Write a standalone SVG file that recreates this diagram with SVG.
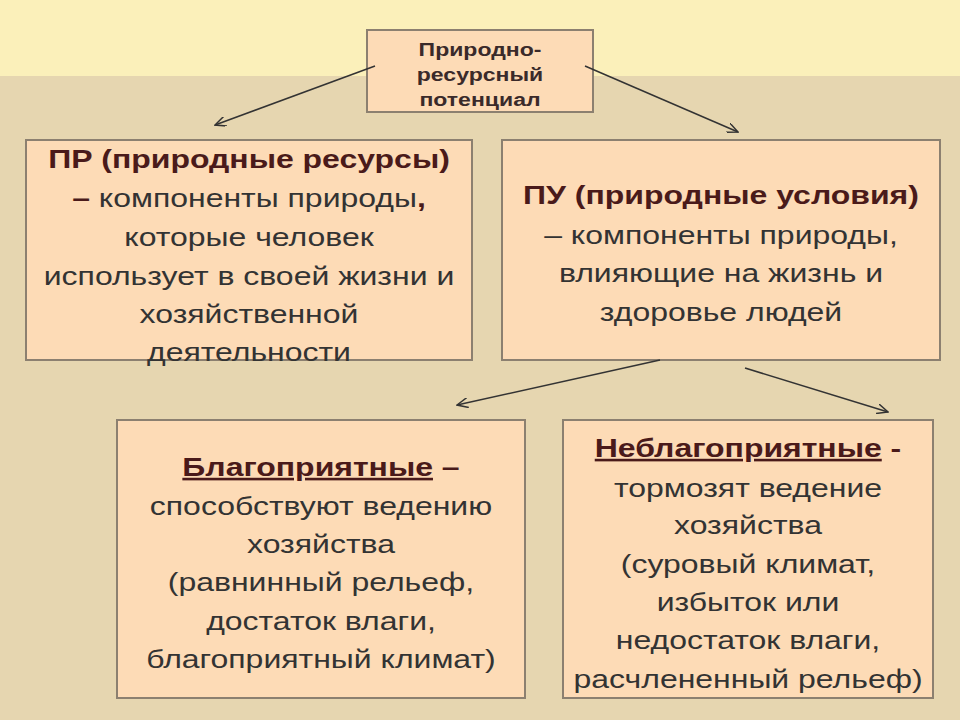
<svg xmlns="http://www.w3.org/2000/svg" width="960" height="720" viewBox="0 0 960 720">
<style>
.box{fill:#FDDBB6;stroke:#8C8070;stroke-width:2}
.t{font-family:"Liberation Sans",Arial,sans-serif;font-size:26px;fill:#333;text-anchor:middle}
.h{font-weight:bold;fill:#4A1A1A}
.s{font-family:"Liberation Sans",Arial,sans-serif;font-size:18px;font-weight:bold;fill:#3A2A2A;text-anchor:middle}
.c{stroke:#333;stroke-width:1.5;fill:none;marker-end:url(#a)}
</style>
<defs><marker id="a" markerWidth="12" markerHeight="10" refX="11" refY="5" orient="auto" markerUnits="userSpaceOnUse"><path d="M0,0 L11,5 L0,10" fill="none" stroke="#333" stroke-width="1.5"/></marker></defs>
<rect width="960" height="720" fill="#E6D6B0"/>
<rect width="960" height="76" fill="#FBF0BA"/>
<g id="top"><rect class="box" x="367" y="30" width="226" height="82"/>
<g transform="translate(480,0) scale(1.28,1)">
<text class="s" x="0" y="56">Природно-</text><text class="s" x="0" y="81">ресурсный</text><text class="s" x="0" y="106">потенциал</text></g></g>
<g id="pr"><rect class="box" x="26" y="140" width="446" height="220"/>
<g transform="translate(249,0) scale(1.23,1)">
<text class="t" x="0" y="168"><tspan class="h">ПР (природные ресурсы)</tspan></text>
<text class="t" x="0" y="207"><tspan class="h">–</tspan> компоненты природы<tspan class="h">,</tspan></text>
<text class="t" x="0" y="246">которые  человек</text>
<text class="t" x="0" y="285">использует в своей жизни и</text>
<text class="t" x="0" y="323">хозяйственной</text>
<text class="t" x="0" y="361">деятельности</text></g></g>
<g id="pu"><rect class="box" x="502" y="140" width="438" height="220"/>
<g transform="translate(721,0) scale(1.23,1)">
<text class="t" x="0" y="204"><tspan class="h">ПУ (природные условия)</tspan></text>
<text class="t" x="0" y="244">– компоненты природы,</text>
<text class="t" x="0" y="282">влияющие на жизнь и</text>
<text class="t" x="0" y="321">здоровье людей</text></g></g>
<g id="blago"><rect class="box" x="117" y="420" width="408" height="278"/>
<g transform="translate(321,0) scale(1.23,1)">
<text class="t" x="0" y="476"><tspan class="h" text-decoration="underline">Благоприятные</tspan><tspan class="h"> –</tspan></text>
<text class="t" x="0" y="515">способствуют ведению</text>
<text class="t" x="0" y="553">хозяйства</text>
<text class="t" x="0" y="591">(равнинный рельеф,</text>
<text class="t" x="0" y="630">достаток влаги,</text>
<text class="t" x="0" y="668">благоприятный климат)</text></g></g>
<g id="neblago"><rect class="box" x="563" y="420" width="370" height="278"/>
<g transform="translate(748,0) scale(1.23,1)">
<text class="t" x="0" y="457"><tspan class="h" text-decoration="underline">Неблагоприятные</tspan><tspan class="h"> -</tspan></text>
<text class="t" x="0" y="497">тормозят ведение</text>
<text class="t" x="0" y="534">хозяйства</text>
<text class="t" x="0" y="573">(суровый климат,</text>
<text class="t" x="0" y="611">избыток или</text>
<text class="t" x="0" y="649">недостаток влаги,</text>
<text class="t" x="0" y="688">расчлененный рельеф)</text></g></g>
<g id="connectors">
<line class="c" x1="375" y1="66" x2="215" y2="125"/>
<line class="c" x1="585" y1="66" x2="738" y2="132"/>
<line class="c" x1="660" y1="360" x2="457" y2="405"/>
<line class="c" x1="745" y1="368" x2="888" y2="412"/>
</g>
</svg>
